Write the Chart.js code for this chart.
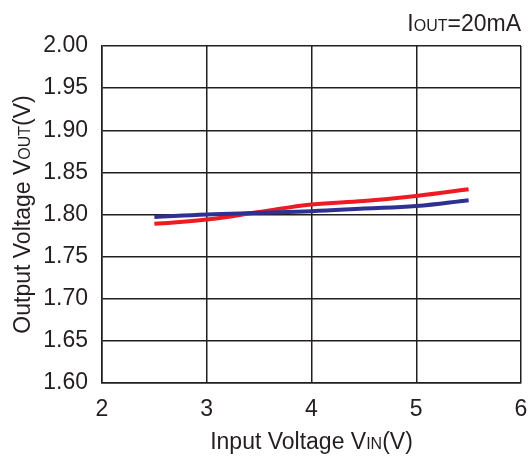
<!DOCTYPE html>
<html>
<head>
<meta charset="utf-8">
<script src="https://cdn.jsdelivr.net/npm/chart.js@4"></script>
<style>
  html, body { margin: 0; padding: 0; background: #fff; }
  #wrap { width: 529px; height: 456px; }
</style>
</head>
<body>
<div id="wrap"><canvas id="voutChart" width="529" height="456"></canvas></div>
<script>
// input voltage points (V)
const vin = [2.5, 3.0, 3.5, 4.0, 4.5, 5.0, 5.5];
// output voltage, two curves
const voutBlue = [1.797, 1.800, 1.802, 1.804, 1.807, 1.810, 1.817];
const voutRed = [1.789, 1.794, 1.803, 1.812, 1.816, 1.822, 1.830];
const xTicks = [2, 3, 4, 5, 6];
const yTicks = [1.60, 1.65, 1.70, 1.75, 1.80, 1.85, 1.90, 1.95, 2.00];

const ink = '#231f20';
const fontFam = '"Liberation Sans", Arial, sans-serif';

function toPoints(xs, ys) {
    return xs.map((x, i) => ({ x: x, y: ys[i] }));
}

// draws text pieces with smaller "subscript" parts
function drawParts(ctx, parts, x, y, align) {
    let total = 0;
    parts.forEach(p => {
        ctx.font = p.size + 'px ' + fontFam;
        p.w = ctx.measureText(p.t).width;
        total += p.w;
    });
    let cx = align === 'right' ? x - total : (align === 'center' ? x - total / 2 : x);
    parts.forEach(p => {
        ctx.font = p.size + 'px ' + fontFam;
        ctx.fillText(p.t, cx, y);
        cx += p.w;
    });
}

const labelsPlugin = {
    id: 'labels',
    afterDraw(chart) {
        const ctx = chart.ctx;
        const area = chart.chartArea;
        ctx.save();
        ctx.fillStyle = ink;
        ctx.textBaseline = 'alphabetic';
        ctx.textAlign = 'left';
        // top right note
        drawParts(ctx, [{ t: 'I', size: 23 }, { t: 'OUT', size: 16 }, { t: '=20mA', size: 23 }], area.right, 31, 'right');
        // x title
        drawParts(ctx, [{ t: 'Input Voltage V', size: 23 }, { t: 'IN', size: 16 }, { t: '(V)', size: 23 }], (area.left + area.right) / 2, 449, 'center');
        // y title
        ctx.translate(30, (area.top + area.bottom) / 2);
        ctx.rotate(-Math.PI / 2);
        drawParts(ctx, [{ t: 'Output Voltage V', size: 23 }, { t: 'OUT', size: 16 }, { t: '(V)', size: 23 }], 0, 0, 'center');
        ctx.restore();
    }
};

const ctx = document.getElementById('voutChart').getContext('2d');
const voutChart = new Chart(ctx, {
    type: 'scatter',
    data: {
        datasets: [{
            data: toPoints(vin, voutBlue),
            showLine: true,
            borderColor: '#2e3192',
            borderWidth: 4,
            pointRadius: 0,
            tension: 0.4
        }, {
            data: toPoints(vin, voutRed),
            showLine: true,
            borderColor: '#ed1c24',
            borderWidth: 4,
            pointRadius: 0,
            tension: 0.4
        }]
    },
    options: {
        responsive: false,
        animation: false,
        layout: { padding: { left: 0, right: 8, top: 46, bottom: 0 } },
        plugins: {
            legend: { display: false },
            tooltip: { enabled: false }
        },
        scales: {
            x: {
                type: 'linear',
                min: 2,
                max: 6,
                afterBuildTicks(scale) { scale.ticks = xTicks.map(v => ({ value: v })); },
                afterFit(scale) {
                    scale.height = 73;
                    scale.paddingLeft = 0;
                    scale.paddingRight = 0;
                },
                ticks: {
                    color: ink,
                    font: { family: fontFam, size: 23 },
                    padding: 13,
                    maxRotation: 0
                },
                grid: { color: ink, lineWidth: 1.5, drawTicks: false },
                border: { color: ink, width: 1.5 }
            },
            y: {
                min: 1.6,
                max: 2.0,
                afterBuildTicks(scale) { scale.ticks = yTicks.map(v => ({ value: v })); },
                afterFit(scale) {
                    scale.width = 102;
                    scale.paddingTop = 0;
                    scale.paddingBottom = 0;
                },
                ticks: {
                    color: ink,
                    font: { family: fontFam, size: 23 },
                    padding: 14,
                    callback: v => v.toFixed(2)
                },
                grid: { color: ink, lineWidth: 1.5, drawTicks: false },
                border: { color: ink, width: 1.5 }
            }
        }
    },
    plugins: [labelsPlugin]
});
</script>
</body>
</html>
